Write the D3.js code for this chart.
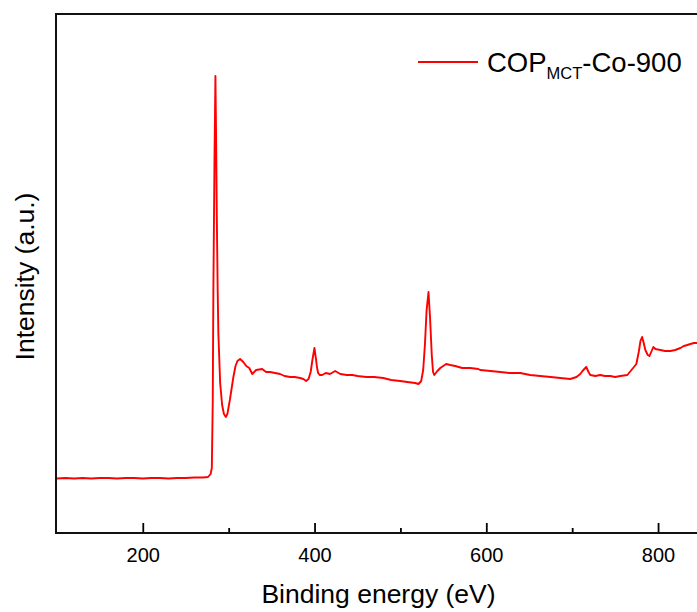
<!DOCTYPE html>
<html>
<head>
<meta charset="utf-8">
<script src="https://cdn.jsdelivr.net/npm/d3@7"></script>
<style>
	body { margin: 0; background: #fff; }
	svg { display: block; font-family: "Liberation Sans", Arial, sans-serif; }
</style>
</head>
<body>
<script>
// XPS survey spectrum
const energy = [
	100, 110, 120, 130, 140, 150, 160, 170, 180, 190, 200, 210, 220, 230, 240, 250, 260, 270, 276, 279,
	280.4, 281.5, 282.2, 283.5, 284.6, 285.4, 286.2, 287.2, 288, 290.1, 292.4, 294.5, 296.7, 298.5, 301.4, 305.5, 308, 310.2, 313.3, 317,
	320.5, 324, 327.5, 332, 339, 343.6, 348.2, 354, 359.9, 365, 371.6, 377, 383.2, 387, 390.2, 393, 395.5, 397.5, 399.9, 401.5,
	403, 404.2, 406, 408.9, 413, 418, 424, 430, 437.6, 444, 450.2, 460, 469.4, 480, 489.3, 499.7, 508, 517.2, 521, 524.2,
	526.5, 528.5, 530.5, 532.7, 534.5, 536.5, 538, 539.4, 543, 546.4, 553.3, 558, 563.8, 572, 581.3, 590.6, 592.9, 605, 616.2, 627,
	639.5, 651, 662.8, 675, 686.1, 697.8, 705, 709.4, 712, 716.4, 719, 721.1, 726.9, 732.7, 738, 744.4, 750, 756, 764.2, 770,
	774.7, 777.5, 779.5, 781.4, 783, 785.2, 788, 790, 792, 794.5, 797, 802.7, 808, 814.3, 820, 826, 830, 834.1, 837.6, 842,
	845.8, 850
];
const intensity = [
	5450, 5500, 5450, 5500, 5450, 5500, 5500, 5450, 5500, 5500, 5450, 5500, 5500, 5450, 5500, 5500, 5550, 5550, 5600, 5900,
	6500, 13300, 24300, 37300, 45700, 39300, 31700, 24300, 20000, 15000, 12800, 11900, 11600, 11900, 13300, 15600, 16700, 17200, 17400, 17100,
	16700, 16500, 15900, 16300, 16400, 16100, 16100, 16000, 15900, 15700, 15600, 15600, 15500, 15400, 15200, 15400, 16100, 17300, 18500, 17500,
	16500, 16000, 15800, 15800, 16000, 15900, 16200, 15900, 15800, 15800, 15700, 15600, 15600, 15500, 15300, 15200, 15100, 15000, 14900, 15200,
	16300, 18800, 22300, 24100, 21500, 17800, 16100, 15800, 16200, 16500, 16900, 16800, 16700, 16500, 16500, 16400, 16300, 16200, 16100, 16000,
	16000, 15800, 15700, 15600, 15500, 15400, 15600, 15900, 16200, 16600, 16100, 15800, 15700, 15800, 15700, 15700, 15600, 15700, 15800, 16400,
	16900, 18100, 19200, 19600, 19100, 18300, 17800, 17700, 18100, 18600, 18400, 18300, 18200, 18200, 18300, 18500, 18700, 18800, 18900, 19000,
	19000, 19100
];
const majorTicks = [200, 400, 600, 800];
const minorTicks = [300, 500, 700];
const seriesName = "COP";
const seriesSub = "MCT";
const seriesSuffix = "-Co-900";
const xTitle = "Binding energy (eV)";
const yTitle = "Intensity (a.u.)";

const width = 697;
const height = 612;
const margin = { left: 56, top: 14, right: 0, bottom: 79 };
const plotRight = 701; // the frame runs past the window edge

const data = energy.map((e, i) => ({ e: e, v: intensity[i] }));

const svg = d3.select("body").append("svg").attr("width", width).attr("height", height);

const x = d3.scaleLinear().domain([100, 850]).range([margin.left + 0.9, plotRight]);
const y = d3.scaleLinear().domain([0, 51900]).range([height - margin.bottom, margin.top]);

// spectrum
svg.append("path")
	.datum(data)
	.attr("fill", "none")
	.attr("stroke", "#ff0000")
	.attr("stroke-width", 1.9)
	.attr("stroke-linejoin", "round")
	.attr("d", d3.line().x((d) => x(d.e)).y((d) => y(d.v)));

// bottom axis, ticks point inwards
const xAxis = svg.append("g")
	.attr("transform", `translate(0, ${height - margin.bottom})`)
	.call(d3.axisBottom(x).tickValues(majorTicks).tickSize(-10).tickPadding(15));
xAxis.select(".domain").remove();
xAxis.selectAll("line").attr("stroke", "#000").attr("stroke-width", 1.8);
xAxis.selectAll("text").attr("font-size", 20).attr("fill", "#000").attr("font-family", null);

const xMinor = svg.append("g")
	.attr("transform", `translate(0, ${height - margin.bottom})`)
	.call(d3.axisBottom(x).tickValues(minorTicks).tickSize(-5).tickFormat(""));
xMinor.select(".domain").remove();
xMinor.selectAll("line").attr("stroke", "#000").attr("stroke-width", 1.8);

// frame
svg.append("rect")
	.attr("x", margin.left)
	.attr("y", margin.top)
	.attr("width", plotRight - margin.left)
	.attr("height", height - margin.bottom - margin.top)
	.attr("fill", "none")
	.attr("stroke", "#111")
	.attr("stroke-width", 2);

// axis titles
svg.append("text")
	.attr("x", (margin.left + plotRight) / 2)
	.attr("y", 603)
	.attr("text-anchor", "middle")
	.attr("font-size", 26.5)
	.text(xTitle);

svg.append("text")
	.attr("transform", `translate(34, ${(margin.top + height - margin.bottom) / 2 + 3}) rotate(-90)`)
	.attr("text-anchor", "middle")
	.attr("font-size", 26.5)
	.text(yTitle);

// legend
const legend = svg.append("g").attr("transform", "translate(418, 62)");
legend.append("line")
	.attr("x1", 0)
	.attr("x2", 60)
	.attr("stroke", "#ff0000")
	.attr("stroke-width", 1.8);
const label = legend.append("text").attr("x", 69).attr("y", 10).attr("font-size", 27.5);
label.append("tspan").text(seriesName);
label.append("tspan").attr("font-size", 16.5).attr("dy", 7).text(seriesSub);
label.append("tspan").attr("dy", -7).text(seriesSuffix);
</script>
</body>
</html>
